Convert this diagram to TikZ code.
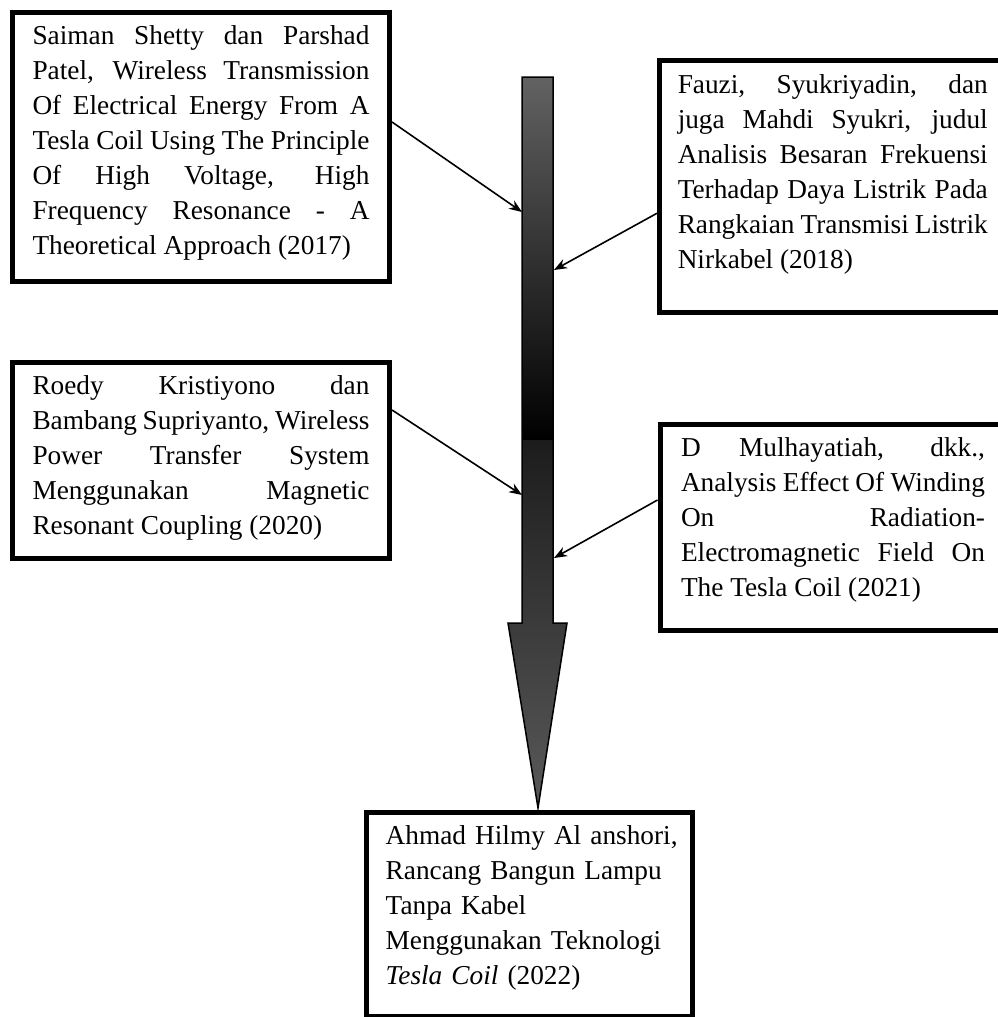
\documentclass[tikz,border=0pt]{standalone}
\usepackage{fontspec}
\setmainfont{Liberation Serif}
\usetikzlibrary{arrows.meta}

\definecolor{shafttop}{HTML}{626262}
\definecolor{shaftlow}{HTML}{1C1C1C}
\definecolor{headlow}{HTML}{5A5A5A}

\tikzset{
 refbox/.style={draw, line width=5pt, inner sep=0pt},
 reftext/.style={align=justify, inner sep=0pt, anchor=north, font=\fontsize{27.3}{35}\selectfont},
 link/.style={line width=1.6pt, -{Stealth[length=13pt,width=10pt]}}
}

\begin{document}
\begin{tikzpicture}[x=1pt,y=-1pt]
\useasboundingbox (0,0) rectangle (998,1017);

% big time arrow
\begin{scope}
\clip (522,77) -- (553,77) -- (553,623) -- (567,623) -- (538,808) -- (508,623) -- (522,623) -- cycle;
\shade[top color=shafttop, bottom color=black] (500,77) rectangle (580,440);
\shade[top color=shaftlow, bottom color=headlow] (500,440) rectangle (580,810);
\end{scope}
\draw[line width=1.5pt] (522,77) -- (553,77) -- (553,623) -- (567,623) -- (538,808) -- (508,623) -- (522,623) -- cycle;

% boxes
\node[refbox, minimum width=377pt, minimum height=269pt] (saiman) at (201,146.5) {};
\node[reftext, text width=337pt] (saimantext) at ([yshift=-16pt]saiman.north) {Saiman Shetty dan Parshad\linebreak Patel, Wireless Transmission\linebreak Of Electrical Energy From A\linebreak Tesla Coil Using The Principle\linebreak Of High Voltage, High\linebreak Frequency Resonance - A\linebreak Theoretical Approach (2017)};

\node[refbox, minimum width=346.5pt, minimum height=251.5pt] (fauzi) at (832.75,186.25) {};
\node[reftext, text width=310pt] (fauzitext) at ([yshift=-16pt]fauzi.north) {Fauzi, Syukriyadin, dan\linebreak juga Mahdi Syukri, judul\linebreak Analisis Besaran Frekuensi\linebreak Terhadap Daya Listrik Pada\linebreak Rangkaian Transmisi Listrik\linebreak Nirkabel (2018)};

\node[refbox, minimum width=377pt, minimum height=196pt] (roedy) at (201,460) {};
\node[reftext, text width=337pt] (roedytext) at ([yshift=-16pt]roedy.north) {Roedy Kristiyono dan\linebreak Bambang Supriyanto, Wireless\linebreak Power Transfer System\linebreak Menggunakan Magnetic\linebreak Resonant Coupling (2020)};

\node[refbox, minimum width=346pt, minimum height=206pt] (mulhayatiah) at (833,527) {};
\node[reftext, text width=304pt] (mulhayatiahtext) at ([yshift=-16pt]mulhayatiah.north) {D Mulhayatiah, dkk.,\linebreak Analysis Effect Of Winding\linebreak On Radiation-\linebreak Electromagnetic Field On\linebreak The Tesla Coil (2021)};

\node[refbox, minimum width=326pt, minimum height=204pt] (ahmad) at (529,914) {};
\node[reftext, align=left, anchor=north west, text width=300pt] (ahmadtext) at ([xshift=22pt,yshift=-16pt]ahmad.north west) {Ahmad Hilmy Al anshori,\\ Rancang Bangun Lampu\\ Tanpa Kabel\\ Menggunakan Teknologi\\ \textit{Tesla Coil} (2022)};

% connectors
\coordinate (hit1) at (522,212);
\coordinate (hit2) at (554,270);
\coordinate (hit3) at (522,495);
\coordinate (hit4) at (554,558);
\foreach \src/\side/\dy/\hit in {saiman/east/24.5/hit1, fauzi/west/-27/hit2, roedy/east/50/hit3, mulhayatiah/west/27/hit4}
 \draw[link] ([yshift=\dy pt]\src.\side) -- (\hit);

\end{tikzpicture}
\end{document}
